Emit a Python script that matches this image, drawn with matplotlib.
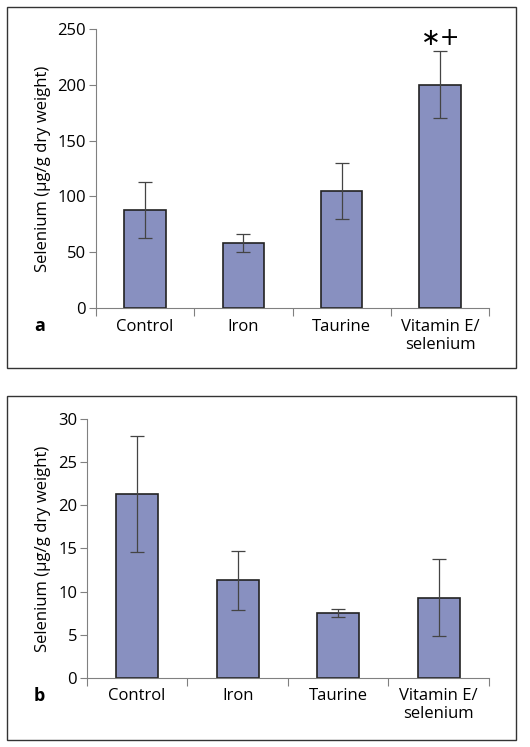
import numpy as np
import matplotlib.pyplot as plt
from matplotlib.patches import Rectangle

groups = ["Control", "Iron", "Taurine", "Vitamin E/\nselenium"]

# panel a
sel_a = [88, 58, 105, 200]
err_a = [25, 8, 25, 30]
ticks_a = [0, 50, 100, 150, 200, 250]

# panel b
sel_b = [21.3, 11.3, 7.5, 9.3]
err_b = [6.7, 3.45, 0.45, 4.45]
ticks_b = [0, 5, 10, 15, 20, 25, 30]

plt.rcParams['font.family'] = ['Open Sans', 'DejaVu Sans']
barcol = "#8890c0"
axcol = "#808080"

fig = plt.figure(figsize=(5.3, 7.47), dpi=100)

# frames around each panel
for y0, y1 in [(0.5074, 0.9906), (0.0094, 0.4699)]:
    fig.patches.append(Rectangle((0.0132, y0), 0.9604, y1 - y0, transform=fig.transFigure,
                                 fill=False, edgecolor="#333333", lw=1.0))

def panel(rect, vals, errs, ticks, letter, letter_y):
    ax = fig.add_axes(rect)
    x = np.arange(len(vals))
    ax.bar(x, vals, width=0.42, color=barcol, edgecolor="#222222", lw=1.2, zorder=2)
    ax.errorbar(x, vals, yerr=errs, fmt="none", ecolor="#444444", elinewidth=0.9,
                capsize=5, capthick=0.9, zorder=3)
    ax.set_xlim(-0.5, len(vals) - 0.5)
    ax.set_ylim(ticks[0], ticks[-1])
    ax.set_yticks(ticks)
    ax.tick_params(axis="y", labelsize=12, length=5, color=axcol, width=0.8, pad=2)
    ax.set_xticks(np.arange(len(vals) + 1) - 0.5)
    ax.set_xticklabels([])
    ax.tick_params(axis="x", length=6, color=axcol, width=0.8)
    for i, g in enumerate(groups):
        ax.text(i, -0.04, g, transform=ax.get_xaxis_transform(), ha="center", va="top",
                fontsize=12, linespacing=1.15)
    for s in ["top", "right"]:
        ax.spines[s].set_visible(False)
    for s in ["left", "bottom"]:
        ax.spines[s].set_color(axcol)
        ax.spines[s].set_linewidth(0.8)
    ax.set_ylabel("Selenium (µg/g dry weight)", fontsize=12, labelpad=5)
    fig.text(0.074, letter_y, letter, fontsize=13, fontweight="bold", ha="center", va="center")
    return ax

ax1 = panel([0.181, 0.5877, 0.742, 0.3735], sel_a, err_a, ticks_a, "a", 1 - 326 / 747)
ax1.text(3.01, 242, "\u2217+", ha="center", va="center", fontsize=17, family="DejaVu Sans")
ax2 = panel([0.164, 0.0924, 0.7585, 0.3467], sel_b, err_b, ticks_b, "b", 1 - 696 / 747)

fig.savefig("out.png", dpi=100)
